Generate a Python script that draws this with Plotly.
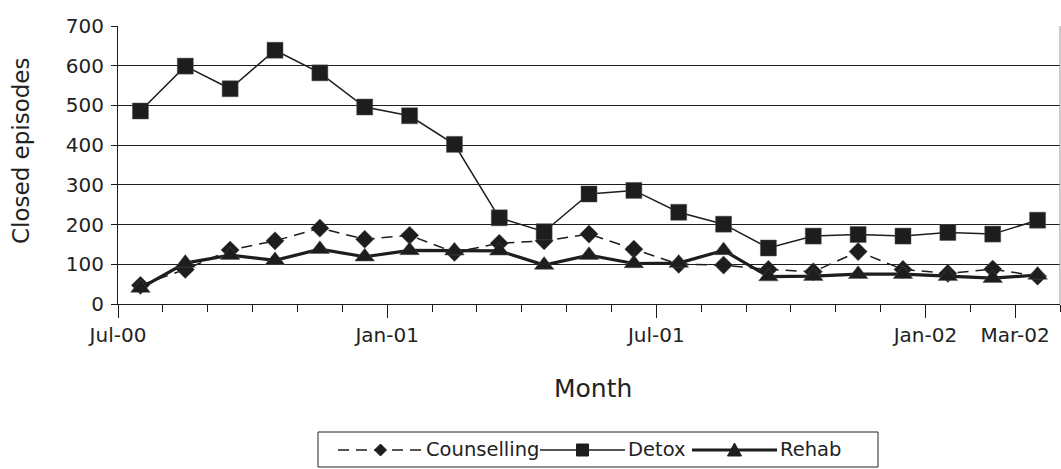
import plotly.graph_objects as go

# Monthly closed episodes, Jul-2000 .. Mar-2002
months = ["Jul-00", "Aug-00", "Sep-00", "Oct-00", "Nov-00", "Dec-00",
          "Jan-01", "Feb-01", "Mar-01", "Apr-01", "May-01", "Jun-01",
          "Jul-01", "Aug-01", "Sep-01", "Oct-01", "Nov-01", "Dec-01",
          "Jan-02", "Feb-02", "Mar-02"]
counselling = [47, 87, 136, 159, 191, 163, 173, 130, 153, 159, 176, 138,
               100, 98, 87, 81, 132, 87, 77, 88, 70]
detox = [486, 599, 542, 639, 582, 496, 474, 402, 217, 182, 277, 286,
         231, 201, 141, 171, 175, 171, 180, 176, 211]
rehab = [40, 103, 123, 110, 138, 119, 135, 134, 134, 98, 123, 102,
         103, 135, 69, 70, 75, 75, 70, 65, 73]

series_names = ["Counselling", "Detox", "Rehab"]
tick_labels = ["Jul-00", "Jan-01", "Jul-01", "Jan-02", "Mar-02"]
y_ticks = [0, 100, 200, 300, 400, 500, 600, 700]

# each month occupies one unit slot; points sit in the middle of the slot
x_pos = [i + 0.5 for i in range(len(months))]
tick_pos = [months.index(m) for m in tick_labels]

INK = "#1e1c1d"
TXT = "#222"
FONT = "DejaVu Sans"

W, H = 1061, 469
ML, MR, MT, MB = 118, 1, 26, 165
PW, PH = W - ML - MR, H - MT - MB


def px_x(px):
    """page pixel column -> paper x"""
    return (px - ML) / PW


def px_y(py):
    """page pixel row -> paper y"""
    return (H - MB - py) / PH


styles = {
    "Counselling": dict(line=dict(color=INK, width=1.5, dash="11px,7px"),
                        marker=dict(symbol="diamond", size=14)),
    "Detox": dict(line=dict(color=INK, width=1.5),
                  marker=dict(symbol="square", size=16)),
    "Rehab": dict(line=dict(color=INK, width=3.2),
                  marker=dict(symbol="triangle-up", size=17)),
}
values = {"Counselling": counselling, "Detox": detox, "Rehab": rehab}

fig = go.Figure()
for name in series_names:
    st = styles[name]
    fig.add_trace(go.Scatter(
        x=x_pos, y=values[name], name=name, mode="lines+markers",
        line=st["line"],
        marker=dict(symbol=st["marker"]["symbol"], size=st["marker"]["size"],
                    color=INK, line=dict(color="#555", width=0.5)),
        showlegend=False,
    ))

fig.update_layout(
    width=W, height=H,
    margin=dict(l=ML, r=MR, t=MT, b=MB),
    paper_bgcolor="white", plot_bgcolor="white",
    font=dict(family=FONT, size=20, color=TXT),
    showlegend=False,
    xaxis=dict(
        range=[0, len(months)], tickmode="array",
        tickvals=tick_pos, ticktext=tick_labels,
        ticks="outside", ticklen=13, tickwidth=1, tickcolor=INK,
        minor=dict(tickmode="linear", tick0=0, dtick=1, ticks="outside",
                   ticklen=7, tickwidth=1, tickcolor=INK, showgrid=False),
        showline=True, linecolor=INK, linewidth=1,
        showgrid=False, zeroline=False,
        tickfont=dict(family=FONT, size=20, color=TXT),
    ),
    yaxis=dict(
        range=[0, 700], tickmode="array", tickvals=y_ticks,
        ticks="outside", ticklen=6, tickwidth=1, tickcolor=INK,
        showline=True, linecolor=INK, linewidth=1,
        showgrid=True, gridcolor=INK, gridwidth=1,
        zeroline=False, ticklabelstandoff=3,
        tickfont=dict(family=FONT, size=20, color=TXT),
    ),
)

# axis titles
fig.add_annotation(text="Month", xref="paper", yref="paper",
                   x=px_x(593), y=px_y(388), xanchor="center", yanchor="middle",
                   showarrow=False, font=dict(family=FONT, size=25, color=TXT))
fig.add_annotation(text="Closed episodes", xref="paper", yref="paper",
                   x=px_x(21), y=px_y(151), xanchor="center", yanchor="middle",
                   textangle=-90, showarrow=False,
                   font=dict(family=FONT, size=23, color=TXT))

# light frame on the right edge of the plot area
fig.add_shape(type="line", xref="paper", yref="paper", x0=1, x1=1, y0=0, y1=1,
              line=dict(color="#9a9a9a", width=1))

# legend box below the chart with long line samples
fig.add_shape(type="rect", xref="paper", yref="paper",
              x0=px_x(318), x1=px_x(878), y0=px_y(432), y1=px_y(467),
              line=dict(color=TXT, width=1), fillcolor="white", layer="above")

legend_row = 450
legend_slots = {"Counselling": (338, 423), "Detox": (540, 625), "Rehab": (692, 777)}
marker_paths = {
    "Counselling": "M0,6 L6,0 L0,-6 L-6,0 Z",
    "Detox": "M-6,-6 L6,-6 L6,6 L-6,6 Z",
    "Rehab": "M-7,-6 L7,-6 L0,7 Z",
}
for name in series_names:
    a, b = legend_slots[name]
    ln = styles[name]["line"]
    fig.add_shape(type="line", xref="paper", yref="paper",
                  x0=px_x(a), x1=px_x(b), y0=px_y(legend_row), y1=px_y(legend_row),
                  line=dict(color=INK, width=ln["width"], dash=ln.get("dash", "solid")),
                  layer="above")
    fig.add_shape(type="path", xref="paper", yref="paper",
                  xsizemode="pixel", ysizemode="pixel",
                  xanchor=px_x((a + b) / 2), yanchor=px_y(legend_row),
                  path=marker_paths[name], fillcolor=INK,
                  line=dict(color=INK, width=1), layer="above")
    fig.add_annotation(text=name, xref="paper", yref="paper",
                       x=px_x(b + 1), y=px_y(legend_row),
                       xanchor="left", yanchor="middle", showarrow=False,
                       font=dict(family=FONT, size=19.5, color=TXT))

fig.write_html("out.html")
